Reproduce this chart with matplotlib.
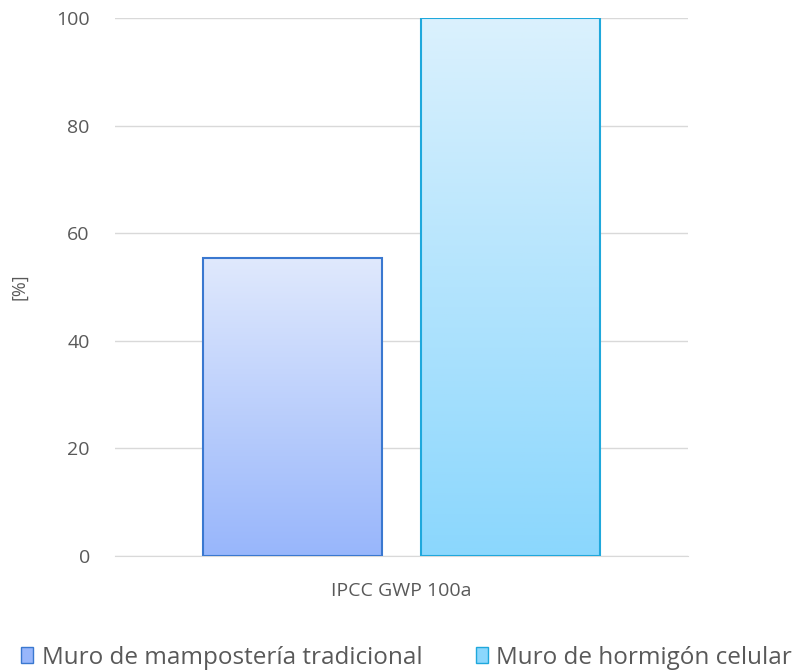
import numpy as np
import matplotlib.pyplot as plt
import matplotlib.colors as mcolors
from matplotlib.patches import Patch

# Data
categories = ['IPCC GWP 100a']
series = ['Muro de mampostería tradicional', 'Muro de hormigón celular']
values = [55.4, 100]

# Styles: (top colour, bottom colour, edge colour)
grad_colors = [('#e0e9fd', '#98b6fb', '#3a78d0'),
               ('#dbf1fd', '#8bd7fd', '#1fa8dc')]

plt.rcParams['font.family'] = ['Open Sans', 'DejaVu Sans']
text_color = '#595959'

fig = plt.figure(figsize=(7.92, 6.71), dpi=100)
ax = fig.add_axes([0.145, 0.1714, 0.724, 0.8018])

width = 0.312
offsets = [-0.19, 0.19]
x = np.arange(len(categories))

for i, (name, val) in enumerate(zip(series, values)):
    top, bottom, edge = grad_colors[i]
    bars = ax.bar(x + offsets[i], [val], width, facecolor='none',
                  edgecolor=edge, linewidth=1.5, zorder=3)
    cmap = mcolors.LinearSegmentedColormap.from_list('g%d' % i, [bottom, top])
    for b in bars:
        x0, y0 = b.get_x(), b.get_y()
        grad = np.linspace(0, 1, 256).reshape(-1, 1)
        im = ax.imshow(grad, cmap=cmap, aspect='auto', origin='lower',
                       extent=[x0, x0 + b.get_width(), y0, y0 + b.get_height()],
                       zorder=2)
        im.set_clip_path(b)

ax.set_xlim(-0.5, 0.5)
ax.set_ylim(0, 100)
ax.set_yticks([0, 20, 40, 60, 80, 100])
ax.set_xticks(x)
ax.set_xticklabels(categories)
ax.yaxis.grid(True, color='#d9d9d9', linewidth=1, zorder=0)
ax.set_axisbelow(True)
for s in ['top', 'right', 'left']:
    ax.spines[s].set_visible(False)
ax.spines['bottom'].set_color('#d9d9d9')
ax.tick_params(axis='both', length=0, colors=text_color, labelsize=14)
ax.tick_params(axis='y', pad=18)
ax.tick_params(axis='x', pad=19)
ax.set_ylabel('[%]', color=text_color, fontsize=13, labelpad=20)

handles = [Patch(facecolor=grad_colors[i][1], edgecolor=grad_colors[i][2],
                 label=series[i]) for i in range(len(series))]
fig.legend(handles=handles, loc='center left', bbox_to_anchor=(0.005, 0.02),
           ncol=2, frameon=False, fontsize=17.5, labelcolor=text_color,
           handlelength=0.5, handleheight=0.65, handletextpad=0.35,
           columnspacing=2.2, borderpad=0.2)

fig.savefig('out.png', dpi=100)
